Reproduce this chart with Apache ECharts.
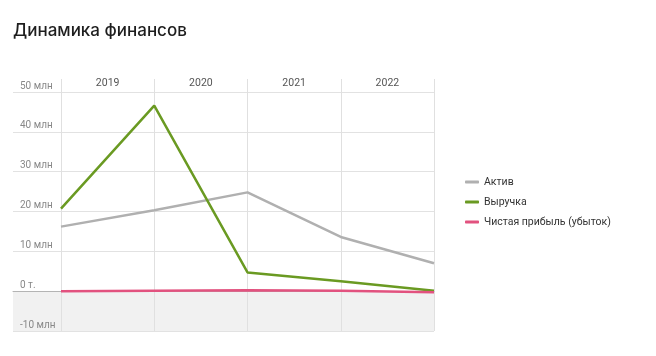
<!DOCTYPE html>
<html>
<head>
<meta charset="utf-8">
<script src="https://cdn.jsdelivr.net/npm/echarts@6/dist/echarts.min.js"></script>
<style>
  html, body { margin: 0; padding: 0; background: #fff; }
  #chart { width: 656px; height: 356px; }
</style>
</head>
<body>
<div id="chart"></div>
<script>
// ---- data ----
const years = ['2019', '2020', '2021', '2022'];
const pointDates = ['2019-01', '2020-01', '2021-01', '2022-01', '2023-01'];
const aktiv = [16.2, 20.3, 24.8, 13.6, 7.0];
const vyruchka = [20.7, 46.6, 4.7, 2.5, 0.1];
const pribyl = [0.0, 0.1, 0.2, 0.1, -0.3];
const yTickValues = [-10, 0, 10, 20, 30, 40, 50];
const yTickLabels = ['-10 млн', '0 т.', '10 млн', '20 млн', '30 млн', '40 млн', '50 млн'];
const seriesNames = ['Актив', 'Выручка', 'Чистая прибыль (убыток)'];

const FONT = 'Roboto, "Noto Sans", sans-serif';
const chart = echarts.init(document.getElementById('chart'), null, { renderer: 'canvas' });

const option = {
  backgroundColor: '#ffffff',
  animation: false,
  textStyle: { fontFamily: FONT },
  title: {
    text: 'Динамика финансов',
    left: 13,
    top: 22,
    padding: 0,
    textStyle: { fontSize: 17, fontWeight: 500, color: '#1e1e1e', fontFamily: 'Inter, Roboto, sans-serif' }
  },
  legend: {
    data: seriesNames,
    orient: 'vertical',
    left: 460,
    top: 170,
    itemGap: 6,
    itemWidth: 14,
    itemHeight: 3,
    icon: 'roundRect',
    textStyle: { fontSize: 10.5, color: '#333', lineHeight: 14, fontFamily: FONT }
  },
  grid: [
    { left: 13, right: 222, top: 92, bottom: 25 },
    { left: 61, right: 222, top: 92, bottom: 25 }
  ],
  xAxis: [
    {
      gridIndex: 0, type: 'value', min: 0, max: 1,
      axisLabel: { show: false }, axisTick: { show: false }, splitLine: { show: false },
      axisLine: { show: true, onZero: true, lineStyle: { color: '#b4b4b4', width: 1 } }
    },
    {
      gridIndex: 1, type: 'category', data: pointDates, boundaryGap: false, show: false
    },
    {
      gridIndex: 1, type: 'category', position: 'top', data: years, boundaryGap: true,
      axisLine: { show: false },
      axisTick: { show: true, length: 13, lineStyle: { color: '#e0e0e0' } },
      axisLabel: { margin: 3, color: '#555', fontSize: 10.5, fontFamily: FONT },
      splitLine: { show: true, lineStyle: { color: '#e0e0e0', width: 1 } }
    }
  ],
  yAxis: [
    {
      gridIndex: 0, type: 'value', min: -10, max: 50, interval: 10,
      axisLine: { show: false }, axisTick: { show: false },
      axisLabel: {
        inside: true, margin: 7, verticalAlign: 'bottom', padding: [0, 0, 1, 0],
        showMinLabel: true, showMaxLabel: true,
        color: '#888', fontSize: 10, fontFamily: FONT,
        formatter: function (v) {
          const i = yTickValues.indexOf(v);
          return i >= 0 ? yTickLabels[i] : '';
        }
      },
      splitLine: { show: true, lineStyle: { color: '#e2e2e2', width: 1 } }
    },
    {
      gridIndex: 1, type: 'value', min: -10, max: 50, interval: 10, show: false,
      splitLine: { show: false }
    }
  ],
  series: [
    {
      name: '_bg', type: 'line', xAxisIndex: 0, yAxisIndex: 0, data: [], z: -1,
      silent: true,
      markArea: {
        silent: true,
        z: -1,
        itemStyle: { color: '#f1f1f1' },
        data: [[{ yAxis: -10 }, { yAxis: 0 }]]
      }
    },
    {
      name: seriesNames[0], type: 'line', xAxisIndex: 1, yAxisIndex: 1,
      data: aktiv, symbol: 'none', color: '#b0b0b0',
      lineStyle: { width: 2.5, color: '#b0b0b0' }
    },
    {
      name: seriesNames[1], type: 'line', xAxisIndex: 1, yAxisIndex: 1,
      data: vyruchka, symbol: 'none', color: '#6a9a22',
      lineStyle: { width: 2.5, color: '#6a9a22' }
    },
    {
      name: seriesNames[2], type: 'line', xAxisIndex: 1, yAxisIndex: 1,
      data: pribyl, symbol: 'none', color: '#e2527f',
      lineStyle: { width: 2.5, color: '#e2527f' }
    }
  ]
};
chart.setOption(option);
</script>
</body>
</html>
